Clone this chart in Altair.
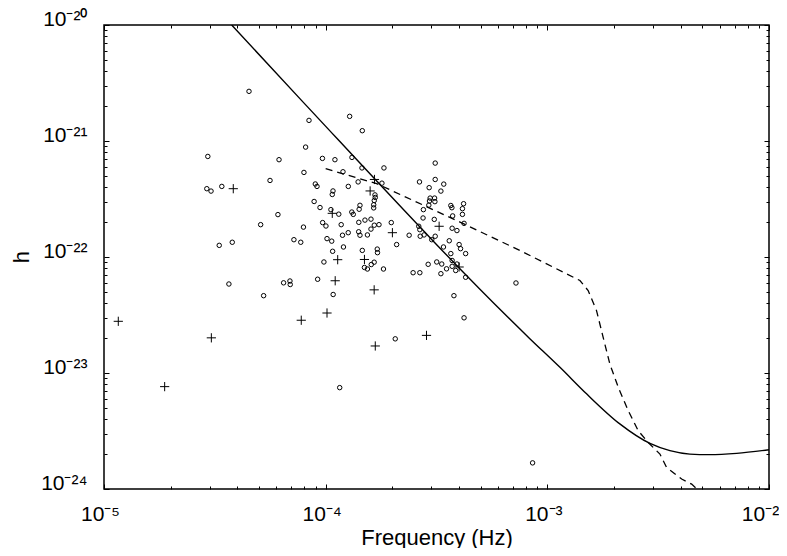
import altair as alt
import pandas as pd

# axis ticks and their labels
x_major = [1e-5, 1e-4, 1e-3, 1e-2]
x_major_labels = ["10⁻⁵", "10⁻⁴", "10⁻³", "10⁻²"]
y_major = [1e-24, 1e-23, 1e-22, 1e-21, 1e-20]
y_major_labels = ["10⁻²⁴", "10⁻²³", "10⁻²²", "10⁻²¹", "10⁻²⁰"]
x_minor = [m * d for d in [1e-5, 1e-4, 1e-3] for m in range(2, 10)]
y_minor = [m * d for d in [1e-24, 1e-23, 1e-22, 1e-21] for m in range(2, 10)]

# open circles
circle_f = [
    4.51e-5, 8.41e-5, 1.283e-4, 1.463e-4, 8.12e-5, 2.94e-5, 6.16e-5, 9.67e-5, 1.101e-4, 1.314e-4,
    1.458e-4, 1.832e-4, 3.12e-4, 7.98e-5, 1.197e-4, 5.61e-5, 2.91e-5, 3.04e-5, 3.40e-5, 8.98e-5,
    9.14e-5, 1.079e-4, 1.071e-4, 1.265e-4, 1.401e-4, 1.794e-4, 1.669e-4, 1.674e-4, 1.657e-4, 1.647e-4,
    1.647e-4, 2.65e-4, 3.12e-4, 3.41e-4, 2.93e-4, 3.31e-4, 2.96e-4, 3.10e-4, 2.94e-4, 3.11e-4,
    2.92e-4, 2.76e-4, 3.67e-4, 3.71e-4, 4.19e-4, 4.14e-4, 8.87e-5, 9.43e-5, 1.056e-4, 1.146e-4,
    1.428e-4, 1.416e-4, 1.312e-4, 1.332e-4, 6.09e-5, 2.75e-4, 3.09e-4, 3.74e-4, 4.14e-4, 5.09e-5,
    7.94e-5, 9.69e-5, 1.003e-4, 1.175e-4, 1.411e-4, 1.504e-4, 1.601e-4, 1.657e-4, 1.740e-4, 1.601e-4,
    1.977e-4, 2.63e-4, 2.66e-4, 4.21e-4, 3.72e-4, 3.91e-4, 1.191e-4, 1.264e-4, 1.409e-4, 1.428e-4,
    1.543e-4, 2.38e-4, 2.67e-4, 2.78e-4, 3.12e-4, 3.01e-4, 3.61e-4, 3.31e-5, 3.79e-5, 7.19e-5,
    7.72e-5, 1.014e-4, 1.065e-4, 1.203e-4, 2.09e-4, 3.40e-4, 4.00e-4, 4.06e-4, 4.28e-4, 1.075e-4,
    1.463e-4, 1.709e-4, 1.713e-4, 3.67e-4, 9.82e-5, 1.606e-4, 1.655e-4, 1.496e-4, 1.543e-4, 1.823e-4,
    2.90e-4, 3.17e-4, 3.34e-4, 3.51e-4, 3.72e-4, 3.72e-4, 3.91e-4, 3.86e-4, 2.48e-4, 2.66e-4,
    3.31e-4, 4.28e-4, 3.66e-5, 6.46e-5, 6.90e-5, 6.92e-5, 9.20e-5, 5.25e-5, 1.081e-4, 7.22e-4,
    3.79e-4, 4.21e-4, 2.06e-4, 1.157e-4, 8.58e-4,
]
circle_h = [
    2.68e-21, 1.506e-21, 1.631e-21, 1.227e-21, 8.86e-22, 7.36e-22, 6.90e-22, 7.08e-22, 6.90e-22, 7.22e-22,
    5.86e-22, 5.86e-22, 6.45e-22, 5.36e-22, 5.43e-22, 4.57e-22, 3.88e-22, 3.70e-22, 4.06e-22, 4.26e-22,
    4.06e-22, 3.71e-22, 3.46e-22, 4.06e-22, 4.44e-22, 4.33e-22, 3.43e-22, 3.26e-22, 3.07e-22, 2.82e-22,
    2.65e-22, 4.44e-22, 4.66e-22, 4.25e-22, 3.96e-22, 3.70e-22, 3.22e-22, 3.22e-22, 3.04e-22, 3.00e-22,
    2.80e-22, 2.56e-22, 2.78e-22, 2.66e-22, 2.88e-22, 2.61e-22, 3.01e-22, 2.67e-22, 2.56e-22, 2.34e-22,
    2.79e-22, 2.58e-22, 2.44e-22, 2.33e-22, 2.32e-22, 2.17e-22, 2.11e-22, 2.26e-22, 2.33e-22, 1.90e-22,
    1.81e-22, 1.98e-22, 1.85e-22, 1.90e-22, 1.99e-22, 2.08e-22, 2.12e-22, 1.88e-22, 1.90e-22, 1.74e-22,
    1.98e-22, 1.84e-22, 1.72e-22, 1.95e-22, 1.77e-22, 1.69e-22, 1.54e-22, 1.62e-22, 1.65e-22, 1.54e-22,
    1.55e-22, 1.54e-22, 1.51e-22, 1.55e-22, 1.51e-22, 1.41e-22, 1.38e-22, 1.26e-22, 1.34e-22, 1.41e-22,
    1.34e-22, 1.44e-22, 1.37e-22, 1.22e-22, 1.28e-22, 1.22e-22, 1.28e-22, 1.18e-22, 1.07e-22, 1.12e-22,
    1.14e-22, 1.17e-22, 1.09e-22, 1.07e-22, 9.06e-23, 8.61e-23, 9.02e-23, 8.12e-23, 7.88e-23, 7.88e-23,
    8.65e-23, 9.06e-23, 8.70e-23, 7.91e-23, 9.33e-23, 8.31e-23, 8.70e-23, 7.65e-23, 7.32e-23, 7.32e-23,
    7.18e-23, 6.69e-23, 5.85e-23, 5.99e-23, 6.21e-23, 5.79e-23, 6.43e-23, 4.64e-23, 4.75e-23, 5.97e-23,
    4.64e-23, 2.99e-23, 1.97e-23, 7.48e-24, 1.68e-24,
]

# plus markers
plus_f = [3.83e-5, 1.660e-4, 1.587e-4, 1.071e-4, 2.00e-4, 3.25e-4, 1.133e-4, 1.496e-4, 4.00e-4,
          1.104e-4, 1.655e-4, 1.160e-5, 7.76e-5, 1.014e-4, 3.05e-5, 1.878e-5, 1.674e-4, 2.85e-4]
plus_h = [3.88e-22, 4.66e-22, 3.71e-22, 2.38e-22, 1.62e-22, 1.84e-22, 9.48e-23, 9.52e-23, 8.20e-23,
          6.24e-23, 5.21e-23, 2.79e-23, 2.85e-23, 3.29e-23, 2.01e-23, 7.63e-24, 1.71e-23, 2.11e-23]

# solid curve
solid_f = [3.767e-5, 7.78e-5, 8.36e-4, 1.140e-3, 1.503e-3, 2.123e-3, 2.904e-3, 3.573e-3,
           4.395e-3, 5.383e-3, 7.145e-3, 1.0e-2]
solid_h = [1.0e-20, 2.239e-21, 1.968e-23, 1.119e-23, 6.61e-24, 3.64e-24, 2.47e-24, 2.14e-24,
           2.00e-24, 1.98e-24, 2.03e-24, 2.18e-24]

# dashed curve
dashed_f = [1.0e-4, 1.698e-4, 4.036e-4, 7.52e-4, 1.403e-3, 1.528e-3, 1.667e-3, 1.786e-3, 1.914e-3,
            2.089e-3, 2.317e-3, 2.570e-3, 2.851e-3, 3.221e-3, 3.451e-3, 4.036e-3, 4.477e-3, 4.732e-3]
dashed_h = [5.77e-22, 4.29e-22, 2.00e-22, 1.138e-22, 6.27e-23, 5.14e-23, 3.45e-23, 2.03e-23, 1.197e-23,
            7.53e-24, 4.74e-24, 3.18e-24, 2.52e-24, 2.00e-24, 1.535e-24, 1.219e-24, 1.102e-24, 1.0e-24]

FONT = "Liberation Sans"


def label_expr(values, labels):
    expr = "''"
    for v, lab in reversed(list(zip(values, labels))):
        expr = f"datum.value < {v * 1.5!r} ? '{lab}' : {expr}"
    return expr


xscale = alt.Scale(type="log", domain=[1e-5, 1e-2], nice=False)
yscale = alt.Scale(type="log", domain=[1e-24, 1e-20], nice=False)

common = dict(grid=False, domain=False, tickColor="black", tickWidth=1,
              labelFont=FONT, titleFont=FONT, labelColor="black", titleColor="black")


def tick_axis(orient, values, size):
    return alt.Axis(orient=orient, values=values, tickSize=size, offset=-size,
                    labels=False, title="", **common)


x_main = alt.Axis(orient="bottom", values=x_major, tickSize=5, offset=-5,
                  labelExpr=label_expr(x_major, x_major_labels), labelFontSize=21,
                  labelPadding=14,
                  labelOffset={"condition": {"test": "datum.value > 0.005", "value": -9}, "value": -4},
                  labelFlush=False, labelOverlap=False,
                  title="Frequency (Hz)", titleFontSize=22, titleFontWeight="normal",
                  titleY=60, titleBaseline="alphabetic", **common)
y_main = alt.Axis(orient="left", values=y_major, tickSize=5, offset=-5,
                  labelExpr=label_expr(y_major, y_major_labels), labelFontSize=21,
                  labelPadding=17, labelBaseline="alphabetic", labelFlush=False,
                  labelOverlap=False, title="h", titleFontSize=22, titleFontWeight="normal",
                  titleX=-81, titleY=231.5, titleAngle=270, titleBaseline="alphabetic",
                  titleAlign="center", **common)

circles = alt.Chart(pd.DataFrame({"f": circle_f, "h": circle_h})).mark_point(
    shape="circle", filled=False, color="black", size=20, strokeWidth=1, opacity=1
).encode(
    x=alt.X("f:Q", scale=xscale, axis=x_main),
    y=alt.Y("h:Q", scale=yscale, axis=y_main),
)

pluses = alt.Chart(pd.DataFrame({"f": plus_f, "h": plus_h})).mark_point(
    shape="M-1,0L1,0M0,-1L0,1", filled=False, color="black", size=85, strokeWidth=1, opacity=1
).encode(
    x=alt.X("f:Q", scale=xscale, axis=tick_axis("top", x_major, 5)),
    y=alt.Y("h:Q", scale=yscale, axis=tick_axis("right", y_major, 5)),
)

solid = alt.Chart(pd.DataFrame({"f": solid_f, "h": solid_h})).mark_line(
    color="black", strokeWidth=1.4, clip=True, interpolate="monotone"
).encode(
    x=alt.X("f:Q", scale=xscale, axis=tick_axis("bottom", x_minor, 3)),
    y=alt.Y("h:Q", scale=yscale, axis=tick_axis("left", y_minor, 3)),
)

dashed = alt.Chart(pd.DataFrame({"f": dashed_f, "h": dashed_h})).mark_line(
    color="black", strokeWidth=1.3, strokeDash=[7, 5], clip=True
).encode(
    x=alt.X("f:Q", scale=xscale, axis=tick_axis("top", x_minor, 3)),
    y=alt.Y("h:Q", scale=yscale, axis=tick_axis("right", y_minor, 3)),
)

chart = alt.layer(solid, dashed, circles, pluses).resolve_axis(
    x="independent", y="independent"
).properties(
    width=665, height=464,
    padding={"left": 96, "top": 17, "right": 10, "bottom": 59},
    autosize=alt.AutoSizeParams(type="none"),
).configure_view(stroke="black", strokeWidth=1.5)

chart.save("out.html", embed_options={"renderer": "svg", "actions": False})
